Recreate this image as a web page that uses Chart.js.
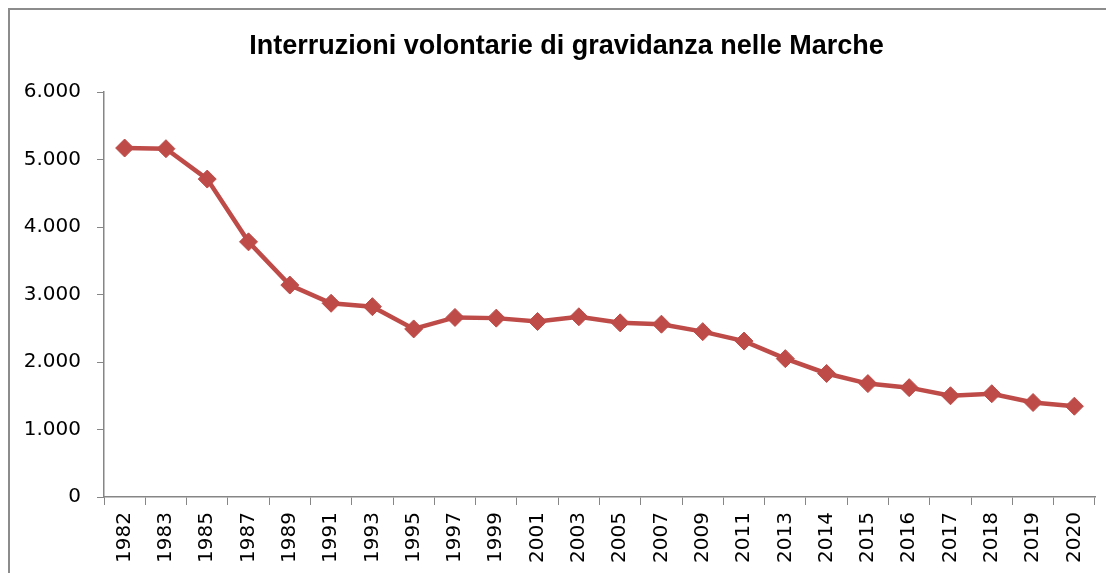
<!DOCTYPE html>
<html lang="it">
<head>
<meta charset="utf-8">
<title>Interruzioni volontarie di gravidanza nelle Marche</title>
<script src="https://cdn.jsdelivr.net/npm/chart.js@4.4.1/dist/chart.umd.min.js"></script>
<style>
  html, body { margin: 0; padding: 0; background: #fff; overflow: hidden; }
  #frame {
    position: absolute;
    left: 8px;
    top: 8px;
    width: 1116px;
    height: 580px;
    border: 2px solid #8c8c8c;
    box-sizing: border-box;
  }
  #wrap { position: absolute; left: 0; top: 0; width: 1112px; height: 576px; }
</style>
</head>
<body>
<div id="frame">
  <div id="wrap"><canvas id="ivgChart"></canvas></div>
</div>
<script>
// --- data ---
const years = ["1982", "1983", "1985", "1987", "1989", "1991", "1993", "1995",
  "1997", "1999", "2001", "2003", "2005", "2007", "2009", "2011", "2013",
  "2014", "2015", "2016", "2017", "2018", "2019", "2020"];
const ivgValues = [5170, 5160, 4710, 3780, 3140, 2870, 2820, 2490,
  2660, 2650, 2600, 2670, 2580, 2560, 2450, 2310, 2050,
  1830, 1680, 1620, 1500, 1530, 1400, 1345];
const yTicks = [0, 1000, 2000, 3000, 4000, 5000, 6000];

const chartTitle = "Interruzioni volontarie di gravidanza nelle Marche";
const lineColor = "#BE4B48";
const axisColor = "#868686";

// Italian thousands separator (6.000)
function formatIT(v) {
  return String(v).replace(/\B(?=(\d{3})+(?!\d))/g, ".");
}

// Title centred on the whole frame (not on the plot area)
const frameTitle = {
  id: "frameTitle",
  afterDraw(chart) {
    const c = chart.ctx;
    c.save();
    c.font = "bold 27px 'Liberation Sans', Arial, sans-serif";
    c.fillStyle = "#000";
    c.textAlign = "center";
    c.textBaseline = "middle";
    c.fillText(chartTitle, 556.5, 37);
    c.restore();
  }
};

const ctx = document.getElementById("ivgChart").getContext("2d");

new Chart(ctx, {
  type: "line",
  data: {
    labels: years,
    datasets: [{
      label: "IVG",
      data: ivgValues,
      borderColor: lineColor,
      backgroundColor: lineColor,
      borderWidth: 4.5,
      pointStyle: "rectRot",
      pointRadius: 9,
      pointHoverRadius: 9,
      pointBorderWidth: 1,
      pointBorderColor: lineColor,
      pointBackgroundColor: lineColor,
      tension: 0
    }]
  },
  options: {
    responsive: true,
    maintainAspectRatio: false,
    animation: false,
    layout: { padding: { left: 0, right: 27, top: 82, bottom: 0 } },
    plugins: {
      legend: { display: false },
      tooltip: { enabled: false },
      title: { display: false }
    },
    scales: {
      x: {
        type: "category",
        offset: true,
        grid: {
          offset: true,
          drawOnChartArea: false,
          drawTicks: true,
          tickLength: 8,
          color: axisColor
        },
        border: { display: true, color: axisColor, width: 1.5 },
        ticks: {
          autoSkip: false,
          minRotation: 90,
          maxRotation: 90,
          padding: 7,
          color: "#000",
          font: { family: "'DejaVu Sans', Verdana, sans-serif", size: 20 }
        },
        afterFit: scale => { scale.height = 89; }
      },
      y: {
        min: 0,
        max: 6000,
        grid: {
          drawOnChartArea: false,
          drawTicks: true,
          tickLength: 7,
          color: axisColor
        },
        border: { display: true, color: axisColor, width: 1.5 },
        afterBuildTicks: scale => {
          scale.ticks = yTicks.map(v => ({ value: v }));
        },
        ticks: {
          padding: 16,
          color: "#000",
          font: { family: "'DejaVu Sans', Verdana, sans-serif", size: 20 },
          callback: v => formatIT(v)
        },
        afterFit: scale => { scale.width = 94; }
      }
    }
  },
  plugins: [frameTitle]
});
</script>
</body>
</html>
